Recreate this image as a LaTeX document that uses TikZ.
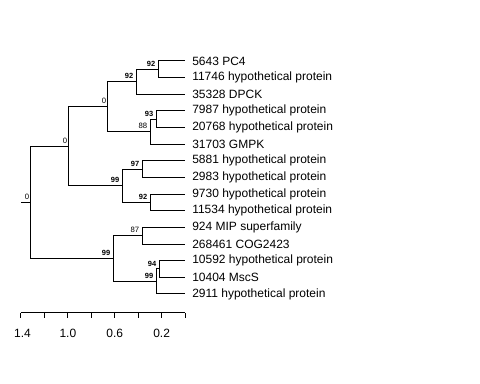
\documentclass[tikz,border=0pt]{standalone}
\usepackage{fontspec}
\setmainfont{Liberation Sans}
\begin{document}
\begin{tikzpicture}[x=0.75pt,y=-0.75pt,
  br/.style={draw=black,line width=0.75pt},
  leaf/.style={anchor=west,inner sep=0pt,font=\fontsize{9}{10}\selectfont},
  bsb/.style={anchor=south east,inner sep=0pt,font=\fontsize{5.6}{6}\selectfont\bfseries},
  bsn/.style={anchor=south east,inner sep=0pt,font=\fontsize{5.8}{6}\selectfont},
  axl/.style={anchor=center,inner sep=0pt,font=\fontsize{9}{10}\selectfont}]
\useasboundingbox (0,0) rectangle (480,384);
% leaves
\coordinate (l1) at (185,61.0);
\coordinate (l2) at (185,77.6);
\coordinate (l3) at (185,94.3);
\coordinate (l4) at (185,110.9);
\coordinate (l5) at (185,127.6);
\coordinate (l6) at (185,144.2);
\coordinate (l7) at (185,160.9);
\coordinate (l8) at (185,177.5);
\coordinate (l9) at (185,194.1);
\coordinate (l10) at (185,210.8);
\coordinate (l11) at (185,227.4);
\coordinate (l12) at (185,244.1);
\coordinate (l13) at (185,260.7);
\coordinate (l14) at (185,277.3);
\coordinate (l15) at (185,294.0);
% internal nodes
\coordinate (a) at (159,69.3);   % 92
\coordinate (b) at (137,81.8);   % 92
\coordinate (c) at (157,119.2);  % 93
\coordinate (d) at (151,131.7);  % 88
\coordinate (e) at (108,106.8);  % 0
\coordinate (f) at (143,169.2);  % 97
\coordinate (g) at (151,202.5);  % 92
\coordinate (h) at (123,185.8);  % 99
\coordinate (i) at (69,146.3);   % 0
\coordinate (j) at (143,235.8);  % 87
\coordinate (k) at (160,269.0);  % 94
\coordinate (m) at (157,281.5);  % 99
\coordinate (n) at (114,258.6);  % 99
\coordinate (r) at (31,202.5);   % root 0
\coordinate (rs) at (21,202.5);
% branches
\draw[br] (a) |- (l1); \draw[br] (a) |- (l2);
\draw[br] (b) |- (a); \draw[br] (b) |- (l3);
\draw[br] (c) |- (l4); \draw[br] (c) |- (l5);
\draw[br] (d) |- (c); \draw[br] (d) |- (l6);
\draw[br] (e) |- (b); \draw[br] (e) |- (d);
\draw[br] (f) |- (l7); \draw[br] (f) |- (l8);
\draw[br] (g) |- (l9); \draw[br] (g) |- (l10);
\draw[br] (h) |- (f); \draw[br] (h) |- (g);
\draw[br] (i) |- (e); \draw[br] (i) |- (h);
\draw[br] (j) |- (l11); \draw[br] (j) |- (l12);
\draw[br] (k) |- (l13); \draw[br] (k) |- (l14);
\draw[br] (m) |- (k); \draw[br] (m) |- (l15);
\draw[br] (n) |- (j); \draw[br] (n) |- (m);
\draw[br] (r) |- (i); \draw[br] (r) |- (n);
\draw[br] (rs) -- (r);
% leaf labels
\node[leaf] (t1) at (192,61.0) {5643 PC4};
\node[leaf] (t2) at (192,77.6) {11746 hypothetical protein};
\node[leaf] (t3) at (192,94.3) {35328 DPCK};
\node[leaf] (t4) at (192,110.9) {7987 hypothetical protein};
\node[leaf] (t5) at (192,127.6) {20768 hypothetical protein};
\node[leaf] (t6) at (192,144.2) {31703 GMPK};
\node[leaf] (t7) at (192,160.9) {5881 hypothetical protein};
\node[leaf] (t8) at (192,177.5) {2983 hypothetical protein};
\node[leaf] (t9) at (192,194.1) {9730 hypothetical protein};
\node[leaf] (t10) at (192,210.8) {11534 hypothetical protein};
\node[leaf] (t11) at (192,227.4) {924 MIP superfamily};
\node[leaf] (t12) at (192,244.1) {268461 COG2423};
\node[leaf] (t13) at (192,260.7) {10592 hypothetical protein};
\node[leaf] (t14) at (192,277.3) {10404 MscS};
\node[leaf] (t15) at (192,294.0) {2911 hypothetical protein};
% support labels
\node[bsb] (sa) at (155.5,66.8) {92};
\node[bsb] (sb) at (133.5,79.3) {92};
\node[bsb] (sc) at (153.5,116.7) {93};
\node[bsn] (sd) at (147.5,129.2) {88};
\node[bsn] (se) at (106.5,104.3) {0};
\node[bsb] (sf) at (139.5,166.7) {97};
\node[bsb] (sg) at (147.5,200.0) {92};
\node[bsb] (sh) at (119.5,183.3) {99};
\node[bsn] (si) at (67.5,143.8) {0};
\node[bsn] (sj) at (139.5,233.3) {87};
\node[bsb] (sk) at (156.5,266.5) {94};
\node[bsb] (sm) at (153.5,279.0) {99};
\node[bsb] (sn) at (110.5,256.1) {99};
\node[bsn] (sr) at (29.5,200.0) {0};
% scale axis
\coordinate (ax0) at (21,313);
\coordinate (ax1) at (185,313);
\draw[br] (ax0) -- (ax1);
\foreach \t in {0,...,7} {
  \draw[br] (21+\t*23.43,313) -- ++(0,5);
}
\node[axl] (x1) at (22.5,333) {1.4};
\node[axl] (x2) at (67.9,333) {1.0};
\node[axl] (x3) at (114.7,333) {0.6};
\node[axl] (x4) at (161.6,333) {0.2};
\end{tikzpicture}
\end{document}
